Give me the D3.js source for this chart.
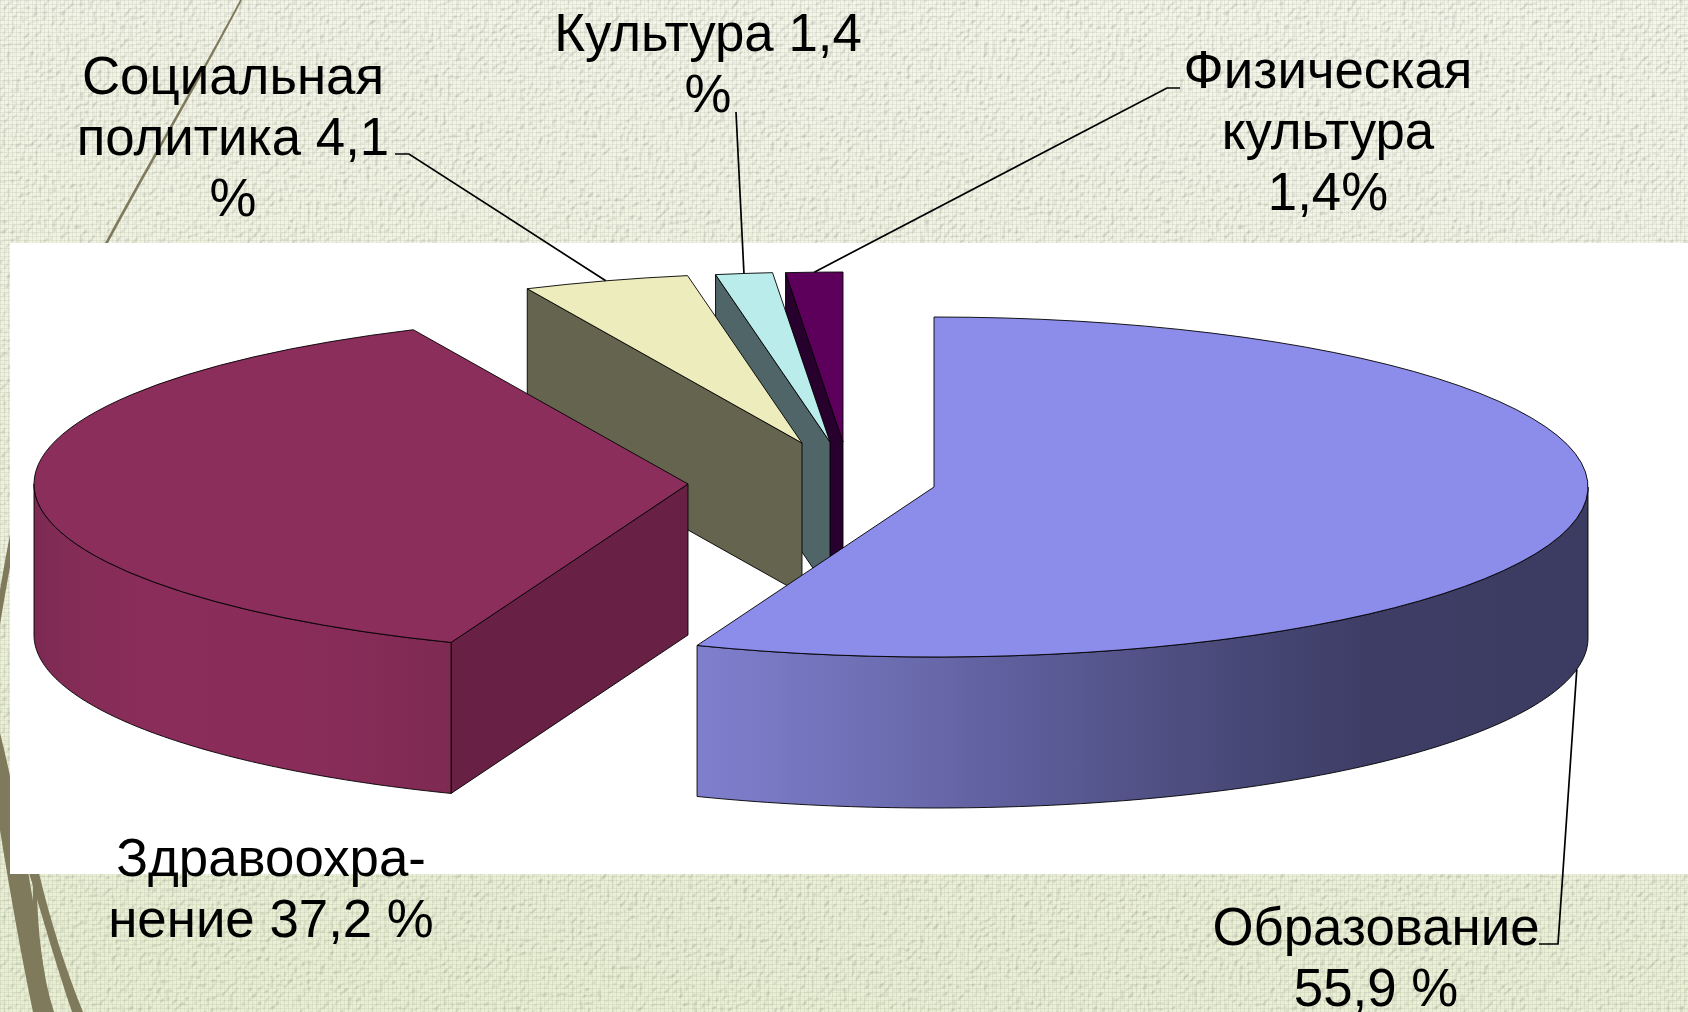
<!DOCTYPE html>
<html>
<head>
<meta charset="utf-8">
<script src="https://cdn.jsdelivr.net/npm/d3@7"></script>
<style>
  html, body { margin: 0; padding: 0; background: #eef1e0; overflow: hidden; }
  svg { display: block; }
  text { font-family: "Liberation Sans", Arial, sans-serif; fill: #000; }
</style>
</head>
<body>
<svg id="canvas"></svg>
<script>
// shares of spending, clockwise from 12 o'clock
const categories = ["Образование", "Здравоохранение", "Социальная политика", "Культура", "Физическая культура"];
const shares = [55.9, 37.2, 4.1, 1.4, 1.4];
const labelLines = [
  ["Образование", "55,9 %"],
  ["Здравоохра-", "нение 37,2 %"],
  ["Социальная", "политика 4,1", "%"],
  ["Культура 1,4", "%"],
  ["Физическая", "культура", "1,4%"]
];

// look of the slices
const topColors = ["#8c8cea", "#8c2e5c", "#ececbc", "#bbecec", "#5c005c"];
const sideColors = ["#3d3d66", "#682145", "#65654f", "#506568", "#28002e"];

// exploded centre of each slice
const centers = [[934, 487], [688, 484], [802, 443], [830, 442], [843, 442]];
const labelPos = [[1376, 945], [271, 876], [233, 94], [708, 51], [1328, 88]];
// elbow of each leader, null = no leader
const leaderElbows = [
  [[1539, 944], [1558, 944]],
  null,
  [[395, 154], [409, 154]],
  [[736, 112]],
  [[1180, 88], [1167, 88]]
];

const width = 1688, height = 1012;
const rx = 654, ry = 170, depth = 151;
const fontSize = 52.8, lineGap = 61;

const svg = d3.select("#canvas").attr("width", width).attr("height", height);
const defs = svg.append("defs");

// wallpaper
const bg = defs.append("linearGradient").attr("id", "paper")
  .attr("x1", 0.55).attr("y1", 0).attr("x2", 0.3).attr("y2", 1);
bg.append("stop").attr("offset", "0%").attr("stop-color", "#f4f5ec");
bg.append("stop").attr("offset", "100%").attr("stop-color", "#e9efd5");

const weave = defs.append("filter").attr("id", "weave")
  .attr("x", 0).attr("y", 0).attr("width", "100%").attr("height", "100%");
weave.append("feTurbulence").attr("type", "fractalNoise")
  .attr("baseFrequency", "0.22 0.22").attr("numOctaves", 1).attr("seed", 4).attr("result", "n");
const light = weave.append("feDiffuseLighting").attr("in", "n")
  .attr("surfaceScale", 1.6).attr("diffuseConstant", 1.15).attr("lighting-color", "#fff");
light.append("feDistantLight").attr("azimuth", 225).attr("elevation", 62);

// fine thread grid on top of the noise
const threads = defs.append("pattern").attr("id", "threads")
  .attr("patternUnits", "userSpaceOnUse").attr("width", 4).attr("height", 4);
threads.append("path").attr("d", "M0,0.5H4M0.5,0V4")
  .attr("stroke", "#9aa080").attr("stroke-opacity", 0.16).attr("fill", "none");

svg.append("rect").attr("width", width).attr("height", height).attr("fill", "url(#paper)");
svg.append("rect").attr("width", width).attr("height", height)
  .attr("filter", "url(#weave)").style("mix-blend-mode", "multiply");
svg.append("rect").attr("width", width).attr("height", height).attr("fill", "url(#threads)");

// grass strokes of the slide template, they sit under the white panel
const grass = svg.append("g").attr("fill", "#7f7a5c").attr("stroke", "none");
[
  "M240,0 C200,75 150,160 105,243 L108,243 C153,160 203,75 242,0 Z",
  "M105,243 C60,330 25,440 0,590 L0,625 C28,450 65,335 110,243 Z",
  "M0,733 C12,780 28,860 50,1012 L33,1012 C20,950 8,880 0,830 Z",
  "M29,873 L39,873 C50,920 66,970 83,1012 L72,1012 C56,965 42,915 29,873 Z",
  "M33,885 C33,920 32,950 34,970 L48,1012 L54,1012 C42,975 38,930 37,893 Z"
].forEach(d => grass.append("path").attr("d", d));

svg.append("rect").attr("x", 10).attr("y", 243).attr("width", width - 10).attr("height", 631)
  .attr("fill", "#fff");

// shading of the two walls that can be seen
const addWallGradient = (id, x1, x2, stops) => {
  const g = defs.append("linearGradient").attr("id", id)
    .attr("gradientUnits", "userSpaceOnUse")
    .attr("x1", x1).attr("x2", x2).attr("y1", 0).attr("y2", 0);
  stops.forEach(s => g.append("stop").attr("offset", s[0]).attr("stop-color", s[1]));
};
addWallGradient("wall0", 697, 1587, [[0, "#7f7fce"], [0.2, "#6e6eb4"], [0.35, "#5f5f9e"], [0.55, "#4d4d7f"], [0.75, "#3d3d66"], [1, "#3c3c62"]]);
addWallGradient("wall1", 33, 452, [[0, "#7c2a53"], [0.12, "#852c57"], [0.3, "#8b2d5b"], [0.7, "#882c59"], [1, "#7e2a52"]]);

const pie = d3.pie().sort(null).startAngle(0).endAngle(2 * Math.PI);
const arcs = pie(shares);

const arcGen = d3.arc().innerRadius(0).outerRadius(rx);
const project = (i, a, z) => [
  centers[i][0] + rx * Math.sin(a),
  centers[i][1] - ry * Math.cos(a) + (z || 0)
];

const chart = svg.append("g").attr("stroke", "#000").attr("stroke-width", 0.9).attr("stroke-linejoin", "round");

// painter's order: the small back slices first, the big front slices last
d3.range(arcs.length).reverse().forEach(i => {
  const d = arcs[i];
  const slice = chart.append("g").attr("class", "slice");

  // cut face on the start edge, only when it faces the viewer
  if (Math.sin(d.startAngle) < 0) {
    const edge = project(i, d.startAngle);
    const c = centers[i];
    slice.append("path")
      .attr("d", d3.line()([edge, c, [c[0], c[1] + depth], [edge[0], edge[1] + depth]]) + "Z")
      .attr("fill", sideColors[i]);
  }

  // outer wall, the part in the front half of the ellipse
  const a0 = Math.max(d.startAngle, Math.PI / 2);
  const a1 = Math.min(d.endAngle, 3 * Math.PI / 2);
  if (a1 > a0) {
    const steps = d3.range(0, 121).map(k => a0 + (a1 - a0) * k / 120);
    const area = d3.area()
      .x(a => project(i, a)[0])
      .y0(a => project(i, a)[1])
      .y1(a => project(i, a, depth)[1]);
    slice.append("path").attr("d", area(steps)).attr("fill", "url(#wall" + i + ")");
  }

  // top face, a flat pie slice squashed into the ellipse
  slice.append("path")
    .attr("transform", "translate(" + centers[i] + ") scale(1," + (ry / rx) + ")")
    .attr("d", arcGen(d))
    .attr("fill", topColors[i])
    .attr("vector-effect", "non-scaling-stroke");
});

// leaders run from the label to the middle of the slice
const leaders = svg.append("g").attr("fill", "none").attr("stroke", "#000").attr("stroke-width", 1.7);
arcs.forEach((d, i) => {
  if (!leaderElbows[i]) return;
  const mid = (d.startAngle + d.endAngle) / 2;
  // a slice in the front half is hit on the lower rim of its wall
  const z = Math.cos(mid) < 0 ? depth : 0;
  leaders.append("path").attr("d", d3.line()([...leaderElbows[i], project(i, mid, z)]));
});

// labels
labelLines.forEach((lines, i) => {
  const t = svg.append("text")
    .attr("text-anchor", "middle")
    .attr("font-size", fontSize)
    .attr("aria-label", categories[i]);
  lines.forEach((line, k) => {
    t.append("tspan")
      .attr("x", labelPos[i][0])
      .attr("y", labelPos[i][1] + k * lineGap)
      .text(line);
  });
});
</script>
</body>
</html>
